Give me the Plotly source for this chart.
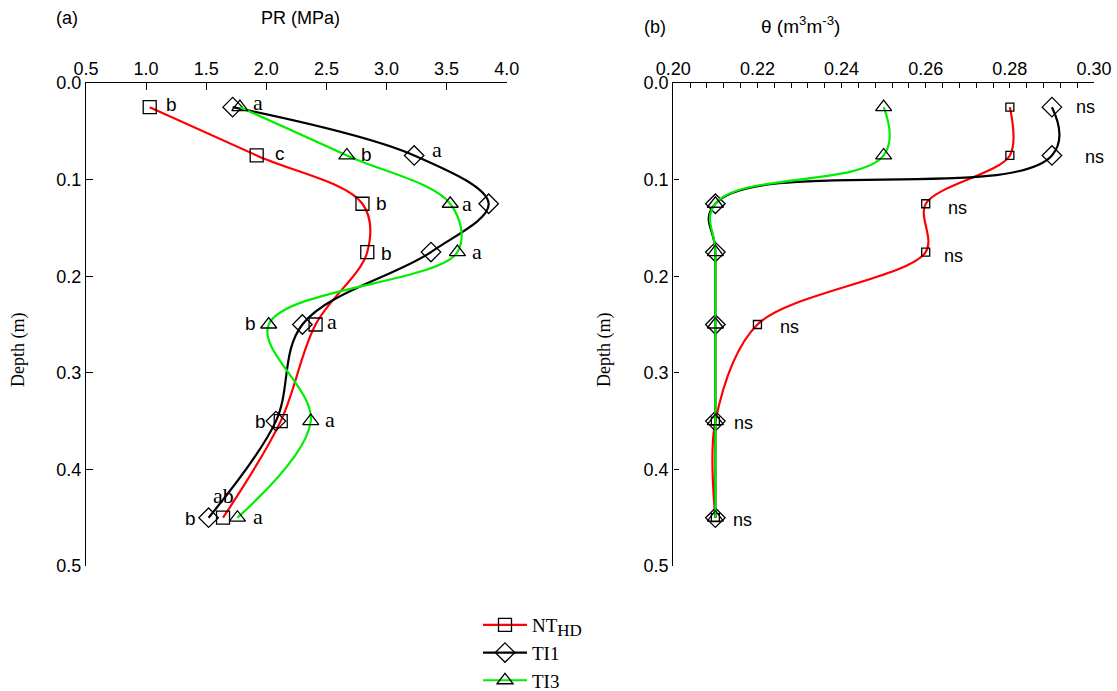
import plotly.graph_objects as go

W, H = 1117, 691

def fx(px):
    return px / W

def fy(py):
    return 1 - py / H

depth = [0.025, 0.075, 0.125, 0.175, 0.25, 0.35, 0.45]

# Panel (a): penetration resistance (MPa)
pr_nthd = [1.03, 1.92, 2.80, 2.84, 2.41, 2.12, 1.64]
pr_ti1 = [1.72, 3.23, 3.85, 3.37, 2.30, 2.08, 1.52]
pr_ti3 = [1.78, 2.67, 3.53, 3.59, 2.02, 2.37, 1.76]

# Panel (b): volumetric water content (m3 m-3)
th_nthd = [0.28, 0.28, 0.26, 0.26, 0.22, 0.21, 0.21]
th_ti1 = [0.29, 0.29, 0.21, 0.21, 0.21, 0.21, 0.21]
th_ti3 = [0.25, 0.25, 0.21, 0.21, 0.21, 0.21, 0.21]

# significance letters: (x, depth, text, font)
letters_a = [
    (1.21, 0.022, "b", "sans"), (1.93, 0.020, "a", "serif"),
    (2.11, 0.073, "c", "sans"), (2.83, 0.074, "b", "sans"), (3.42, 0.069, "a", "serif"),
    (2.96, 0.125, "b", "sans"), (3.67, 0.125, "a", "serif"), (4.02, 0.123, "a", "serif"),
    (3.00, 0.176, "b", "sans"), (3.75, 0.174, "a", "serif"),
    (1.87, 0.249, "b", "sans"), (2.55, 0.247, "a", "serif"),
    (1.95, 0.350, "b", "sans"), (2.53, 0.348, "a", "serif"),
    (1.64, 0.427, "ab", "serif"), (1.37, 0.451, "b", "sans"), (1.93, 0.449, "a", "serif"),
]
letters_b = [
    (0.298, 0.0245, "ns"), (0.300, 0.077, "ns"), (0.2675, 0.1297, "ns"),
    (0.2667, 0.1787, "ns"), (0.2276, 0.2529, "ns"), (0.2167, 0.3516, "ns"), (0.2164, 0.4524, "ns"),
]

RED, BLACK, GREEN = "#ff0000", "#000000", "#00ee00"
SANS = "Liberation Sans"
SERIF = "Liberation Serif"

fig = go.Figure()

def add(x, color, symbol, size, name, xa, ya, show, smooth):
    fig.add_trace(go.Scatter(
        x=x, y=depth, mode="lines+markers", name=name, showlegend=show,
        line=dict(color=color, width=2.2, shape="spline", smoothing=smooth),
        marker=dict(symbol=symbol, size=size, color="black", line=dict(width=1.3, color="black")),
        xaxis=xa, yaxis=ya))

NT_NAME = "NT<sub><span style='font-size:17px'>HD</span></sub>"
add(pr_nthd, RED, "square-open", 13, NT_NAME, "x", "y", True, 1.0)
add(pr_ti1, BLACK, "diamond-open", 15, "TI1", "x", "y", True, 1.0)
add(pr_ti3, GREEN, "triangle-up-open", 14, "TI3", "x", "y", True, 1.0)
add(th_nthd, RED, "square-open", 8, NT_NAME, "x2", "y2", False, 0.9)
add(th_ti1, BLACK, "diamond-open", 15, "TI1", "x2", "y2", False, 1.3)
add(th_ti3, GREEN, "triangle-up-open", 14, "TI3", "x2", "y2", False, 1.2)

ytop, ybot = fy(83), fy(566)
axfont = dict(family=SANS, size=18, color="black")

common_x = dict(side="top", showline=True, linecolor="black", linewidth=1.4,
                ticks="inside", tickcolor="black", showgrid=False, zeroline=False,
                tickfont=axfont, automargin=False)
common_y = dict(domain=[ybot, ytop], range=[0.5, 0], showline=True, linecolor="black",
                linewidth=1.4, ticks="inside", tickcolor="black",
                tickvals=[0, 0.1, 0.2, 0.3, 0.4, 0.5],
                ticktext=["0.0", "0.1", "0.2", "0.3", "0.4", "0.5"],
                showgrid=False, zeroline=False, tickfont=axfont, automargin=False)
fig.update_layout(
    width=W, height=H, margin=dict(l=0, r=0, t=0, b=0, autoexpand=False),
    paper_bgcolor="white", plot_bgcolor="white",
    xaxis=dict(common_x, domain=[fx(86), fx(506.7)], range=[0.5, 4.0],
               tickvals=[0.5, 1.0, 1.5, 2.0, 2.5, 3.0, 3.5, 4.0],
               ticktext=["0.5", "1.0", "1.5", "2.0", "2.5", "3.0", "3.5", "4.0"],
               ticklen=7, tickwidth=1.3, anchor="y"),
    yaxis=dict(common_y, ticklen=7, tickwidth=1.3, anchor="x"),
    xaxis2=dict(common_x, domain=[fx(673.3), fx(1094)], range=[0.2, 0.3],
                tickvals=[0.20, 0.22, 0.24, 0.26, 0.28, 0.30],
                ticktext=["0.20", "0.22", "0.24", "0.26", "0.28", "0.30"],
                ticklen=5, tickwidth=1.2, anchor="y2",
                minor=dict(dtick=0.004, tick0=0.2, ticks="inside", ticklen=5,
                           tickcolor="black", tickwidth=1.2, showgrid=False)),
    yaxis2=dict(common_y, ticklen=5, tickwidth=1.2, anchor="x2"),
    legend=dict(x=fx(478), y=fy(606), xanchor="left", yanchor="top",
                font=dict(family=SERIF, size=19, color="black"),
                bgcolor="rgba(0,0,0,0)", tracegroupgap=0, itemwidth=44),
    showlegend=True,
)

for x, d, t, f in letters_a:
    fig.add_annotation(x=x, y=d, xref="x", yref="y", text=t, showarrow=False,
                       font=dict(family=SANS if f == "sans" else SERIF,
                                 size=19 if f == "sans" else 22, color="black"))
for x, d, t in letters_b:
    fig.add_annotation(x=x, y=d, xref="x2", yref="y2", text=t, showarrow=False,
                       font=dict(family=SANS, size=18, color="black"))

titles = [
    (67, 18, "(a)", SANS, 18), (300, 18, "PR (MPa)", SANS, 18),
    (655, 27, "(b)", SANS, 18), (800, 25, "θ (m<sup>3</sup>m<sup>-3</sup>)", SANS, 19),
]
for px, py, t, fam, s in titles:
    fig.add_annotation(x=fx(px), y=fy(py), xref="paper", yref="paper", text=t,
                       xanchor="center", yanchor="middle",
                       showarrow=False, font=dict(family=fam, size=s, color="black"))
for px in (18, 604):
    fig.add_annotation(x=fx(px), y=fy(350), xref="paper", yref="paper", text="Depth (m)",
                       xanchor="center", yanchor="middle",
                       textangle=-90, showarrow=False,
                       font=dict(family=SERIF, size=18, color="black"))

fig.write_html("out.html", config={"displayModeBar": False},
               post_script="document.body.style.margin='0';document.body.style.overflow='hidden';")
